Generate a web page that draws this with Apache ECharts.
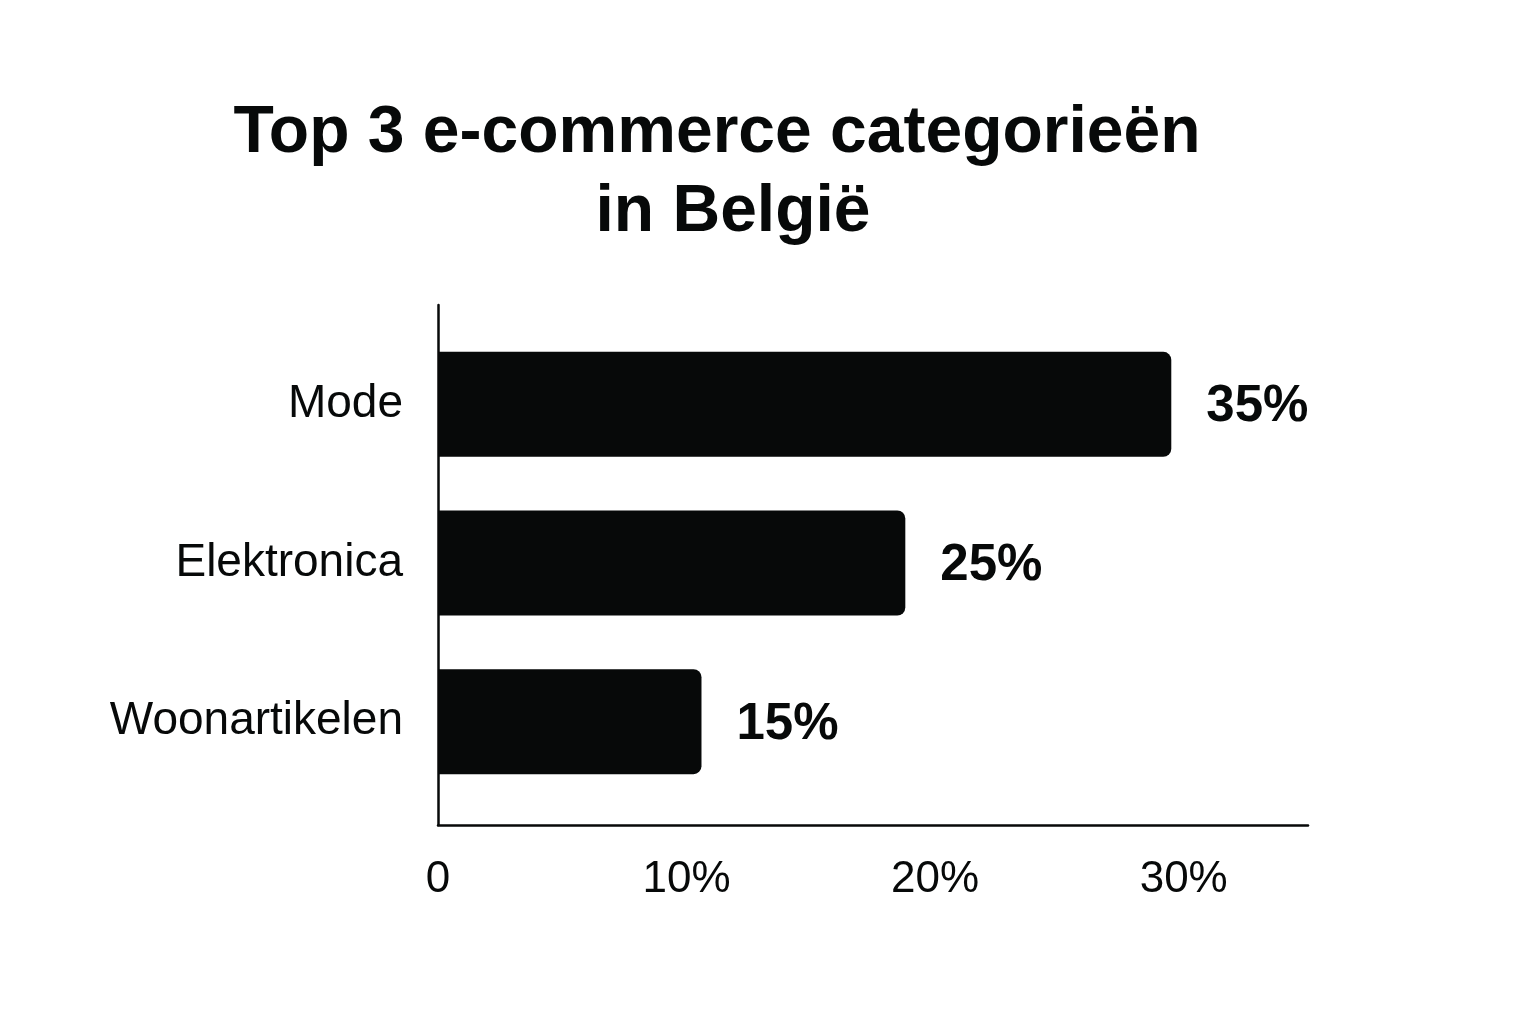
<!DOCTYPE html>
<html>
<head>
<meta charset="utf-8">
<script src="https://cdn.jsdelivr.net/npm/echarts@6/dist/echarts.min.js"></script>
<style>
html,body{margin:0;padding:0;background:#fff;}
#chart{width:1536px;height:1024px;}
</style>
</head>
<body>
<div id="chart"></div>
<script>
// Data
const titleLines = ['Top 3 e-commerce categorieën', 'in België'];
const categories = ['Mode', 'Elektronica', 'Woonartikelen'];
const barLengths = [29.5, 18.8, 10.6];          // bar ends as drawn against the axis
const valueLabels = ['35%', '25%', '15%'];      // printed labels
const xTicks = [0, 10, 20, 30];
const xMax = 35;

const ink = '#070909';
const titleStyle = {
  fontFamily: 'Liberation Sans',
  fontWeight: 'bold',
  fontSize: 66,
  color: ink
};
const chart = echarts.init(document.getElementById('chart'));
chart.setOption({
  backgroundColor: '#ffffff',
  animation: false,
  title: [
    { text: titleLines[0], left: 712, top: 96, textAlign: 'center', textStyle: titleStyle },
    { text: titleLines[1], left: 728, top: 175, textAlign: 'center', textStyle: titleStyle }
  ],
  grid: [
    { left: 438, right: 228, top: 305, bottom: 199 },
    { left: 438, right: 228, top: 325, bottom: 223 }
  ],
  xAxis: [
    {
      gridIndex: 0, type: 'value', min: xTicks[0], max: xMax, interval: xTicks[1] - xTicks[0],
      axisLine: { show: true, lineStyle: { color: ink, width: 2.5 } },
      axisTick: { show: false },
      splitLine: { show: false },
      axisLabel: {
        showMaxLabel: false,
        margin: 33,
        fontFamily: 'Liberation Sans', fontSize: 44, color: ink,
        formatter: v => (v === 0 ? '0' : v + '%')
      }
    },
    {
      gridIndex: 1, type: 'value', min: xTicks[0], max: xMax, show: false
    }
  ],
  yAxis: [
    {
      gridIndex: 0, type: 'value', min: 0, max: 1,
      axisLine: { show: true, onZero: false, lineStyle: { color: ink, width: 2.5 } },
      axisTick: { show: false }, axisLabel: { show: false }, splitLine: { show: false }
    },
    {
      gridIndex: 1, type: 'category', data: categories, inverse: true,
      axisLine: { show: false }, axisTick: { show: false },
      axisLabel: {
        margin: 35,
        fontFamily: 'Liberation Sans', fontSize: 46, color: ink
      }
    }
  ],
  series: [
    {
      type: 'bar',
      xAxisIndex: 1, yAxisIndex: 1,
      data: barLengths,
      barWidth: 105,
      itemStyle: { color: ink, borderRadius: [0, 8, 8, 0] },
      label: {
        show: true, position: 'right', distance: 35,
        fontFamily: 'Liberation Sans', fontWeight: 'bold', fontSize: 51, color: ink,
        offset: [0, 3],
        formatter: p => valueLabels[p.dataIndex]
      }
    }
  ]
});
</script>
</body>
</html>
